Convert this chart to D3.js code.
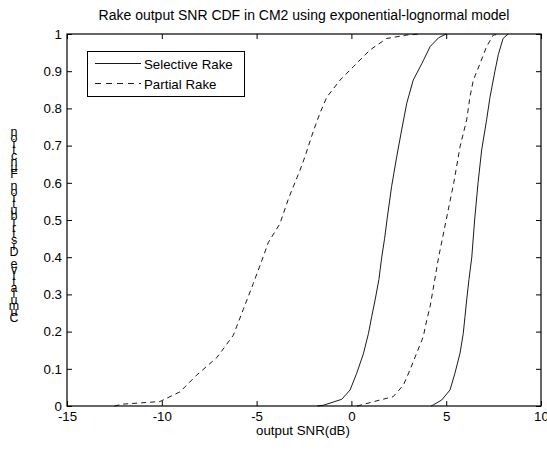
<!DOCTYPE html>
<html><head><meta charset="utf-8">
<script src="https://cdn.jsdelivr.net/npm/d3@7"></script>
<style>body{margin:0;background:#fff}svg{display:block}text{font-family:"Liberation Sans",Arial,sans-serif;fill:#000}</style>
</head><body><svg id="c" width="547" height="450"></svg>
<script>
const title = "Rake output SNR CDF in CM2 using exponential-lognormal model";
const xLabel = "output SNR(dB)";
const yLabel = "Cumulative Distribution Function";
const xTicks = [-15, -10, -5, 0, 5, 10];
const yTicks = [0, 0.1, 0.2, 0.3, 0.4, 0.5, 0.6, 0.7, 0.8, 0.9, 1];
const seriesNames = ["Selective Rake", "Partial Rake"];

const selective1X = [-1.8, -1.48, -0.51, -0.07, 0.28, 0.63, 0.9, 1.07, 1.25, 1.45, 1.6, 1.75, 1.89, 2.12, 2.39, 2.65, 2.92, 3.26, 3.71, 4.15, 4.6, 5.0];
const selective1Y = [0, 0.002, 0.018, 0.043, 0.088, 0.14, 0.195, 0.24, 0.285, 0.34, 0.4, 0.45, 0.505, 0.59, 0.67, 0.742, 0.814, 0.876, 0.92, 0.966, 0.99, 1.0];

const selective2X = [4.2, 4.32, 4.76, 5.2, 5.46, 5.73, 5.9, 5.99, 6.08, 6.2, 6.35, 6.5, 6.68, 6.87, 7.13, 7.31, 7.57, 7.75, 8.0, 8.27];
const selective2Y = [0, 0.003, 0.016, 0.043, 0.088, 0.142, 0.195, 0.24, 0.285, 0.34, 0.4, 0.5, 0.6, 0.688, 0.769, 0.83, 0.9, 0.945, 0.988, 1.0];

const partial1X = [-12.5, -12.05, -10.1, -9.04, -8.16, -7.1, -6.23, -5.7, -5.17, -4.73, -4.38, -3.77, -3.3, -2.71, -2.45, -2.0, -1.66, -1.3, -0.6, 0.1, 0.98, 1.86, 2.9, 3.6];
const partial1Y = [0, 0.005, 0.012, 0.038, 0.083, 0.13, 0.19, 0.26, 0.33, 0.39, 0.44, 0.49, 0.56, 0.634, 0.67, 0.74, 0.787, 0.83, 0.876, 0.912, 0.957, 0.988, 0.997, 1.0];

const partial2X = [0.3, 0.45, 1.5, 2.2, 2.74, 3.09, 3.44, 3.79, 3.97, 4.15, 4.6, 5.0, 5.4, 5.73, 6.08, 6.25, 6.43, 6.78, 7.13, 7.48, 7.84];
const partial2Y = [0, 0.002, 0.016, 0.025, 0.056, 0.097, 0.142, 0.186, 0.23, 0.267, 0.4, 0.5, 0.6, 0.697, 0.769, 0.83, 0.876, 0.92, 0.966, 0.997, 1.0];

const svg = d3.select("#c");
const L = 67, R = 541, T = 34, B = 406;
const FS = 13.3;
const x = d3.scaleLinear().domain([-15, 10]).range([L, R]);
const y = d3.scaleLinear().domain([0, 1]).range([B, T]);

const fmt = d => String(d);
const gB = svg.append("g").attr("transform", `translate(0,${B})`)
  .call(d3.axisBottom(x).tickValues(xTicks).tickSizeInner(-5).tickSizeOuter(0).tickPadding(6).tickFormat(fmt));
const gT = svg.append("g").attr("transform", `translate(0,${T})`)
  .call(d3.axisTop(x).tickValues(xTicks).tickSizeInner(-5).tickSizeOuter(0).tickFormat(""));
const gL = svg.append("g").attr("transform", `translate(${L},0)`)
  .call(d3.axisLeft(y).tickValues(yTicks).tickSizeInner(-5).tickSizeOuter(0).tickPadding(5).tickFormat(fmt));
const gR = svg.append("g").attr("transform", `translate(${R},0)`)
  .call(d3.axisRight(y).tickValues(yTicks).tickSizeInner(-5).tickSizeOuter(0).tickFormat(""));
[gB, gT, gL, gR].forEach(g => {
  g.select(".domain").remove();
  g.selectAll("line").attr("stroke", "#000").attr("stroke-width", 1);
  g.selectAll("text").attr("font-size", FS).attr("font-family", '"Liberation Sans",Arial,sans-serif').attr("fill", "#000");
});
gB.selectAll("text").attr("dy", "0.71em");

const line = d3.line().x(d => x(d[0])).y(d => y(d[1]));
const curves = [
  [selective1X, selective1Y, null],
  [selective2X, selective2Y, null],
  [partial1X, partial1Y, "5,4"],
  [partial2X, partial2Y, "5,4"]
];
curves.forEach(([xs, ys, dash]) => {
  svg.append("path").datum(xs.map((v, i) => [v, ys[i]]))
    .attr("d", line).attr("fill", "none").attr("stroke", "#000").attr("stroke-width", 0.9)
    .attr("stroke-dasharray", dash);
});

svg.append("rect").attr("x", L).attr("y", T).attr("width", R - L).attr("height", B - T)
  .attr("fill", "none").attr("stroke", "#000").attr("stroke-width", 1.2);

svg.append("text").attr("x", 304).attr("y", 20).attr("text-anchor", "middle").attr("font-size", 14).text(title);
svg.append("text").attr("x", 303).attr("y", 435).attr("text-anchor", "middle").attr("font-size", FS).text(xLabel);

// y label: upright characters stacked, reversed order top-to-bottom (as in the reference)
const chars = yLabel.split("").reverse();
svg.append("g").selectAll("text").data(chars).join("text")
  .attr("x", 14).attr("y", (d, i) => 136 + i * 6.0)
  .attr("text-anchor", "middle").attr("font-size", 12.5).text(d => d);

svg.append("rect").attr("x", 87.5).attr("y", 51.5).attr("width", 157).attr("height", 45)
  .attr("fill", "#fff").attr("stroke", "#000").attr("stroke-width", 1);
const lg = svg.append("g");
seriesNames.forEach((n, i) => {
  const yy = 63.5 + i * 20;
  lg.append("line").attr("x1", 95).attr("x2", 141).attr("y1", yy).attr("y2", yy)
    .attr("stroke", "#000").attr("stroke-width", 0.9).attr("stroke-dasharray", i ? "6,5" : null);
  lg.append("text").attr("x", 144).attr("y", yy + 5).attr("font-size", FS).text(n);
});
</script></body></html>
